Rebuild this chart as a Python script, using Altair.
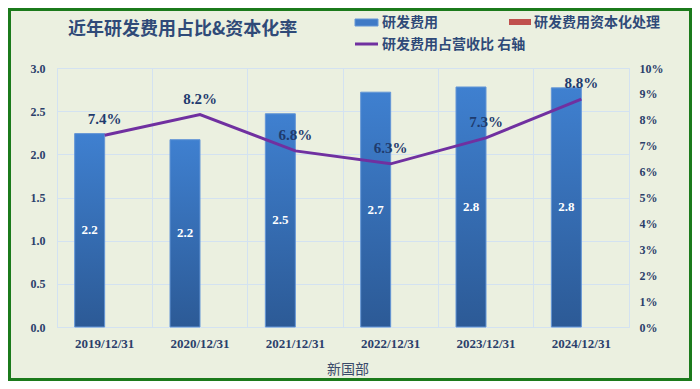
import altair as alt
import pandas as pd

years = ["2019/12/31", "2020/12/31", "2021/12/31", "2022/12/31", "2023/12/31", "2024/12/31"]
rd_expense = [2.24, 2.17, 2.47, 2.72, 2.78, 2.77]
rd_capitalized = [0, 0, 0, 0, 0, 0]
rd_ratio = [0.074, 0.082, 0.068, 0.063, 0.073, 0.088]
series_names = ["研发费用", "研发费用资本化处理", "研发费用占营收比 右轴"]
left_ticks = [0, 0.5, 1.0, 1.5, 2.0, 2.5, 3.0]
right_ticks = [i / 100 for i in range(0, 11)]

W, H = 572, 259
PL, PT, PR, PB = 49, 60, 63, 54
SERIF = "Liberation Serif, Times New Roman, Noto Sans CJK SC, serif"
CJK = "Noto Sans CJK SC, Liberation Serif, serif"
NAVY = "#2B3F6B"
GRID = "#D3E2F1"

bars = pd.DataFrame({"year": years * 2,
                     "series": [series_names[0]] * 6 + [series_names[1]] * 6,
                     "value": rd_expense + rd_capitalized})
bars["mid"] = bars["value"] / 2
line_df = pd.DataFrame({"year": years, "ratio": rd_ratio})

x_enc = alt.X("year:N", sort=years, title=None,
              scale=alt.Scale(paddingInner=0, paddingOuter=0),
              axis=alt.Axis(grid=True, bandPosition=0, gridColor=GRID, gridWidth=1,
                            ticks=False, domain=False, labelAngle=0, labelPadding=10,
                            labelFont=SERIF, labelFontSize=13, labelFontWeight="bold",
                            labelColor=NAVY))
xoff = alt.XOffset("series:N", sort=series_names[:2],
                   scale=alt.Scale(domain=series_names[:2], paddingInner=0, paddingOuter=0.589))
left_axis = alt.Axis(values=left_ticks, format=".1f", grid=True, gridColor=GRID,
                     ticks=False, domain=False, labelPadding=12,
                     labelFont=SERIF, labelFontSize=12, labelFontWeight="bold",
                     labelColor=NAVY)
left_scale = alt.Scale(domain=[0, 3], nice=False)
y_left = alt.Y("value:Q", title=None, scale=left_scale, axis=left_axis)

grad = alt.Gradient(gradient="linear", x1=0, y1=0, x2=0, y2=1,
                    stops=[alt.GradientStop(offset=0, color="#3F80D0"),
                           alt.GradientStop(offset=1, color="#2C5A96")])

base_bars = alt.Chart(bars)
blue = base_bars.transform_filter(alt.datum.series == series_names[0]).mark_bar(
    fill=grad, stroke="#6496D6", strokeWidth=1
).encode(x=x_enc, xOffset=xoff, y=y_left)
red = base_bars.transform_filter(alt.datum.series == series_names[1]).mark_bar(
    fill="#C0504D"
).encode(x=x_enc, xOffset=xoff, y=y_left)
bar_labels = base_bars.transform_filter(alt.datum.series == series_names[0]).mark_text(
    color="white", font=SERIF, fontSize=13, fontWeight="bold", baseline="middle"
).encode(x=x_enc, xOffset=xoff,
         y=alt.Y("mid:Q", title=None, scale=left_scale, axis=left_axis),
         text=alt.Text("value:Q", format=".1f"))

left_layer = alt.layer(blue, red, bar_labels)

right_axis = alt.Axis(orient="right", values=right_ticks, format=".0%", grid=False,
                      ticks=False, domain=False, labelPadding=10,
                      labelFont=SERIF, labelFontSize=12, labelFontWeight="bold",
                      labelColor=NAVY)
right_scale = alt.Scale(domain=[0, 0.1], nice=False)
y_right = alt.Y("ratio:Q", title=None, scale=right_scale, axis=right_axis)
line = alt.Chart(line_df).mark_line(color="#7030A0", strokeWidth=3).encode(
    x=alt.X("year:N", sort=years), y=y_right)
line_labels = alt.Chart(line_df).mark_text(
    color="#1F3B6E", font=SERIF, fontSize=15, fontWeight="bold", dy=-16, baseline="middle"
).encode(x=alt.X("year:N", sort=years), y=y_right,
         text=alt.Text("ratio:Q", format=".1%"))
right_layer = alt.layer(line, line_labels)

one = pd.DataFrame({"a": [0]})
title = alt.Chart(one).mark_text(text="近年研发费用占比&资本化率", font=CJK, fontSize=18,
                                 fontWeight="bold", color="#2F4A78", align="left",
                                 baseline="middle").encode(x=alt.value(11), y=alt.value(-38))
leg_text_kw = dict(font=CJK, fontSize=14, fontWeight="bold", color="#2F4A78",
                   align="left", baseline="middle")
leg1_sw = alt.Chart(one).mark_rect(fill="#3F7AC6", stroke="#6496D6").encode(
    x=alt.value(298), x2=alt.value(321), y=alt.value(-49), y2=alt.value(-42))
leg1_tx = alt.Chart(one).mark_text(text=series_names[0], **leg_text_kw).encode(
    x=alt.value(325), y=alt.value(-45))
leg2_sw = alt.Chart(one).mark_rect(fill="#C0504D").encode(
    x=alt.value(452), x2=alt.value(474), y=alt.value(-49), y2=alt.value(-43))
leg2_tx = alt.Chart(one).mark_text(text=series_names[1], **leg_text_kw).encode(
    x=alt.value(477), y=alt.value(-45))
leg3_sw = alt.Chart(one).mark_rule(color="#7030A0", strokeWidth=3).encode(
    x=alt.value(298), x2=alt.value(321), y=alt.value(-24))
leg3_tx = alt.Chart(one).mark_text(text=series_names[2], **leg_text_kw).encode(
    x=alt.value(325), y=alt.value(-23))
xtitle = alt.Chart(one).mark_text(text="新国部", font=CJK, fontSize=14, color="#3A4A6A",
                                  baseline="middle").encode(x=alt.value(291), y=alt.value(302))
border = alt.Chart(one).mark_rect(fillOpacity=0, stroke="#1B7A1B", strokeWidth=3).encode(
    x=alt.value(-PL + 1.5), x2=alt.value(W + PR - 1.5),
    y=alt.value(-PT + 1.5), y2=alt.value(H + PB - 1.5))

deco = alt.layer(title, leg1_sw, leg1_tx, leg2_sw, leg2_tx, leg3_sw, leg3_tx, xtitle, border)

chart = alt.layer(left_layer, right_layer, deco).resolve_scale(y="independent").properties(
    width=W, height=H,
    autosize=alt.AutoSizeParams(type="none"),
    padding={"left": PL, "top": PT, "right": PR, "bottom": PB},
    background="#EBF0E0",
).configure_view(stroke=GRID, strokeWidth=1)

chart.save("out.html", embed_options={"renderer": "svg", "actions": False})
